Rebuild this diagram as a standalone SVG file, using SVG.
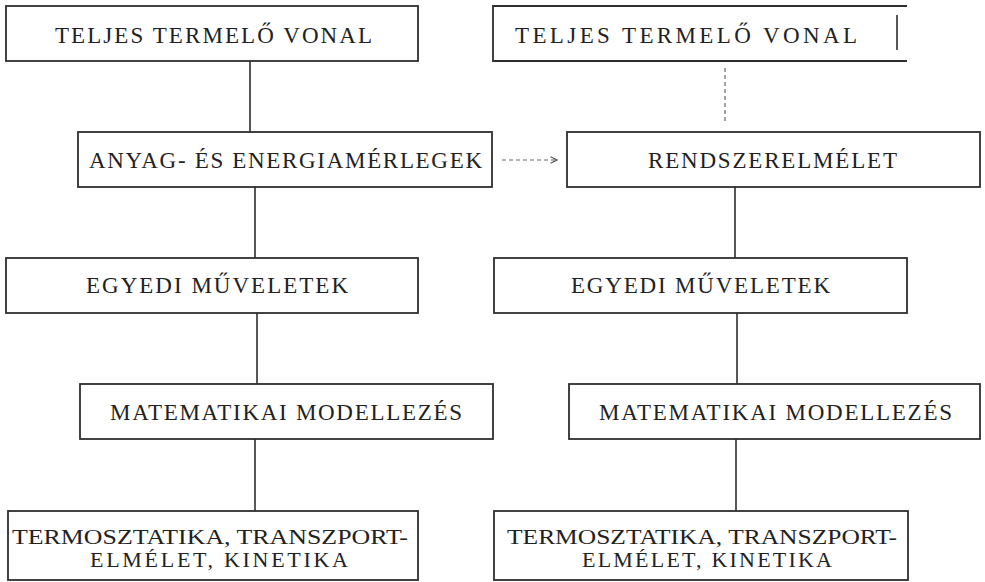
<svg xmlns="http://www.w3.org/2000/svg" width="985" height="582" viewBox="0 0 985 582">
<style>
.box{fill:none;stroke:#2e2e2e;stroke-width:1.8}
.ln{fill:none;stroke:#2e2e2e;stroke-width:1.6}
.dash{fill:none;stroke:#666;stroke-width:1.2;stroke-dasharray:4 3}
.t{font-family:'Liberation Serif','DejaVu Serif','Times New Roman',serif;font-size:23px;fill:#222}
.s{font-size:22px}
</style>
<defs>
<marker id="ah" viewBox="0 0 10 10" refX="9" refY="5" markerWidth="8" markerHeight="8" orient="auto" markerUnits="userSpaceOnUse">
<path d="M1,1 L9,5 L1,9" fill="none" stroke="#555" stroke-width="1.4"/>
</marker>
</defs>
<rect width="985" height="582" fill="#fff"/>
<g id="connectors">
<line class="ln" x1="250" y1="61" x2="250" y2="132"/>
<line class="ln" x1="255" y1="187" x2="255" y2="258"/>
<line class="ln" x1="257" y1="313" x2="257" y2="384"/>
<line class="ln" x1="255" y1="439" x2="255" y2="511"/>
<line class="dash" x1="725" y1="68" x2="725" y2="122"/>
<line class="dash" x1="502" y1="160" x2="557" y2="160" marker-end="url(#ah)"/>
<line class="ln" x1="735" y1="187" x2="735" y2="258"/>
<line class="ln" x1="737" y1="313" x2="737" y2="384"/>
<line class="ln" x1="736" y1="439" x2="736" y2="511"/>
</g>
<g id="L1"><rect class="box" x="6" y="6" width="412" height="55"/><text class="t" x="55" y="43" textLength="317" lengthAdjust="spacing">TELJES TERMELŐ VONAL</text></g>
<g id="L2"><rect class="box" x="78" y="132" width="414" height="55"/><text class="t" x="89" y="168" textLength="393" lengthAdjust="spacing">ANYAG- ÉS ENERGIAMÉRLEGEK</text></g>
<g id="L3"><rect class="box" x="6" y="258" width="412" height="55"/><text class="t" x="86" y="293" textLength="262" lengthAdjust="spacing">EGYEDI MŰVELETEK</text></g>
<g id="L4"><rect class="box" x="80" y="384" width="413" height="55"/><text class="t" x="110" y="420" textLength="352" lengthAdjust="spacing">MATEMATIKAI MODELLEZÉS</text></g>
<g id="L5"><rect class="box" x="8" y="511" width="410" height="69"/><text class="t s" x="12" y="544" textLength="396" lengthAdjust="spacingAndGlyphs">TERMOSZTATIKA, TRANSZPORT-</text><text class="t s" x="90" y="567" textLength="258" lengthAdjust="spacing">ELMÉLET, KINETIKA</text></g>
<g id="R1"><path class="box" d="M907,6 H493 V61 H907"/><line class="ln" x1="897" y1="15" x2="897" y2="50" stroke-width="1.2"/><text class="t" x="515" y="43" textLength="342" lengthAdjust="spacing">TELJES TERMELŐ VONAL</text></g>
<g id="R2"><rect class="box" x="567" y="132" width="413" height="55"/><text class="t" x="648" y="168" textLength="249" lengthAdjust="spacing">RENDSZERELMÉLET</text></g>
<g id="R3"><rect class="box" x="494" y="258" width="413" height="55"/><text class="t" x="571" y="293" textLength="259" lengthAdjust="spacing">EGYEDI MŰVELETEK</text></g>
<g id="R4"><rect class="box" x="569" y="384" width="411" height="55"/><text class="t" x="599" y="420" textLength="353" lengthAdjust="spacing">MATEMATIKAI MODELLEZÉS</text></g>
<g id="R5"><rect class="box" x="494" y="511" width="414" height="69"/><text class="t s" x="507" y="544" textLength="390" lengthAdjust="spacingAndGlyphs">TERMOSZTATIKA, TRANSZPORT-</text><text class="t s" x="582" y="567" textLength="250" lengthAdjust="spacing">ELMÉLET, KINETIKA</text></g>
</svg>
